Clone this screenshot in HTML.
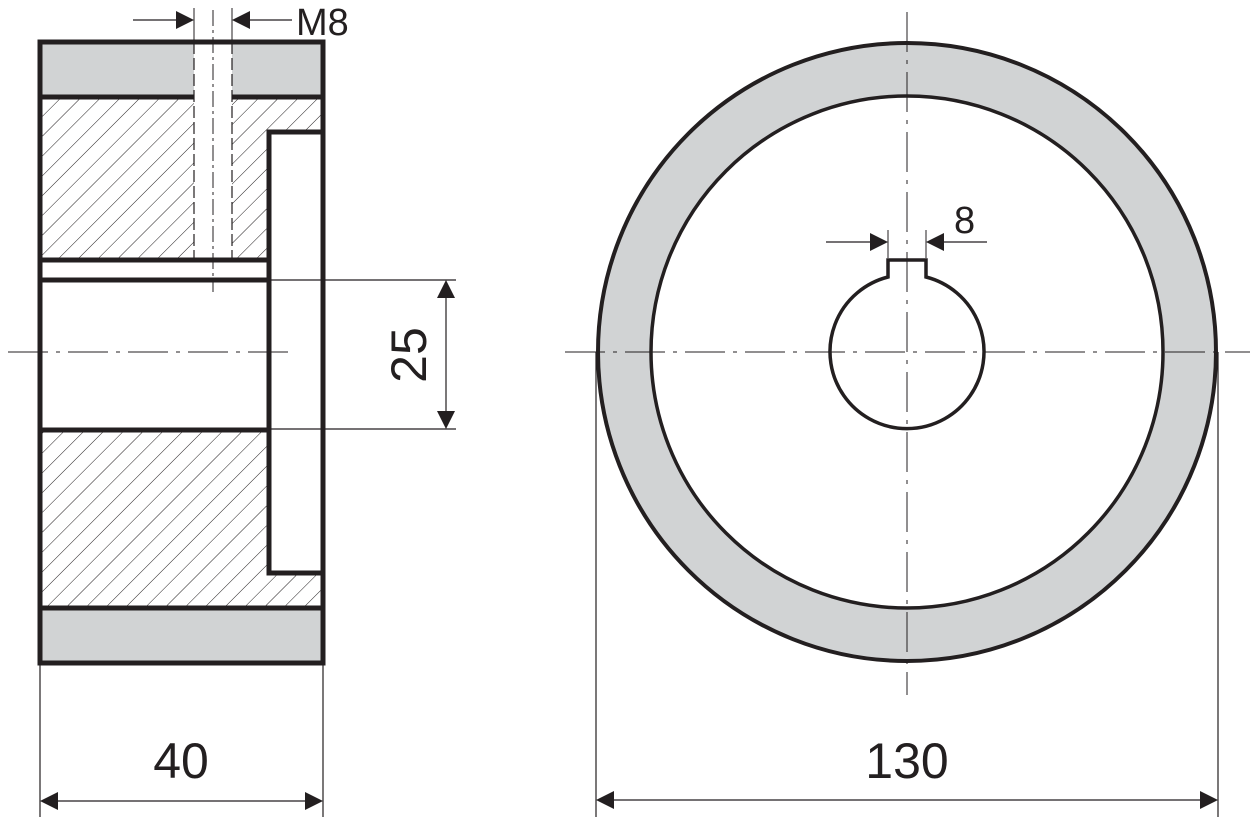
<!DOCTYPE html>
<html><head><meta charset="utf-8"><style>
html,body{margin:0;padding:0;background:#fff}
svg{display:block}
text{font-family:"Liberation Sans",sans-serif;fill:#231f20}
</style></head><body>
<svg width="1260" height="817" viewBox="0 0 1260 817" xmlns="http://www.w3.org/2000/svg">
<defs>
<pattern id="h" patternUnits="userSpaceOnUse" width="14" height="14" patternTransform="rotate(45)">
<line x1="0" y1="0" x2="0" y2="14" stroke="#231f20" stroke-width="1"/>
</pattern>
</defs>
<g stroke="#231f20" fill="none">
<!-- left view fills -->
<rect x="40" y="42" width="283" height="55" fill="#d1d3d4" stroke="none"/>
<rect x="40" y="608" width="283" height="55" fill="#d1d3d4" stroke="none"/>
<rect x="40" y="97" width="283" height="163" fill="url(#h)" stroke="none"/>
<rect x="40" y="430" width="283" height="178" fill="url(#h)" stroke="none"/>
<rect x="40" y="260" width="230" height="170" fill="#fff" stroke="none"/>
<rect x="269" y="132" width="54" height="441" fill="#fff" stroke="none"/>
<rect x="194" y="40" width="38" height="220" fill="#fff" stroke="none"/>
<!-- outlines -->
<rect x="40" y="42" width="283" height="621" stroke-width="5"/>
<line x1="40" y1="97" x2="194" y2="97" stroke-width="5"/>
<line x1="232" y1="97" x2="323" y2="97" stroke-width="5"/>
<line x1="40" y1="608" x2="323" y2="608" stroke-width="5"/>
<line x1="40" y1="260" x2="269" y2="260" stroke-width="5"/>
<line x1="40" y1="280" x2="269" y2="280" stroke-width="5"/>
<line x1="40" y1="430" x2="269" y2="430" stroke-width="5"/>
<polyline points="323,132 269,132 269,573 323,573" stroke-width="5"/>
<!-- thread hole dashed -->
<line x1="194" y1="42" x2="194" y2="258" stroke-width="1.2" stroke-dasharray="12,4"/>
<line x1="232" y1="42" x2="232" y2="258" stroke-width="1.2" stroke-dasharray="12,4"/>
<line x1="213" y1="10" x2="213" y2="292" stroke-width="1" stroke-dasharray="16,4,3,4"/>
<line x1="194" y1="8" x2="194" y2="40" stroke-width="1"/>
<line x1="232" y1="8" x2="232" y2="40" stroke-width="1"/>
<line x1="133" y1="20" x2="176" y2="20" stroke-width="1.2"/>
<line x1="250" y1="20" x2="292" y2="20" stroke-width="1.2"/>
<!-- centerline left -->
<line x1="8" y1="352" x2="292" y2="352" stroke-width="1" stroke-dasharray="40,8,4,8"/>
<!-- 25 dim -->
<line x1="269" y1="280" x2="456" y2="280" stroke-width="1.2"/>
<line x1="269" y1="429" x2="456" y2="429" stroke-width="1.2"/>
<line x1="446" y1="295" x2="446" y2="414" stroke-width="1.2"/>
<!-- 40 dim -->
<line x1="40" y1="663" x2="40" y2="817" stroke-width="1.2"/>
<line x1="323" y1="663" x2="323" y2="817" stroke-width="1.2"/>
<line x1="55" y1="801" x2="308" y2="801" stroke-width="1.2"/>
<!-- right view -->
<circle cx="907" cy="352" r="309" fill="#d1d3d4" stroke-width="4"/>
<circle cx="907" cy="352" r="256" fill="#fff" stroke-width="3.5"/>
<path d="M888,277 L888,260 L926,260 L926,277 A77,77 0 1 1 888,277 Z" fill="#fff" stroke-width="3.5"/>
<line x1="565" y1="352" x2="1250" y2="352" stroke-width="1" stroke-dasharray="40,8,4,8"/>
<line x1="907" y1="12" x2="907" y2="695" stroke-width="1" stroke-dasharray="40,8,4,8"/>
<!-- 8 dim -->
<line x1="888" y1="230" x2="888" y2="258" stroke-width="1"/>
<line x1="926" y1="230" x2="926" y2="258" stroke-width="1"/>
<line x1="826" y1="242" x2="872" y2="242" stroke-width="1.2"/>
<line x1="942" y1="242" x2="987" y2="242" stroke-width="1.2"/>
<!-- 130 dim -->
<line x1="596" y1="352" x2="596" y2="817" stroke-width="1.2"/>
<line x1="1218" y1="352" x2="1218" y2="817" stroke-width="1.2"/>
<line x1="612" y1="800" x2="1202" y2="800" stroke-width="1.2"/>
</g>
<g fill="#231f20">
<polygon points="194,20 176,11 176,29"/>
<polygon points="232,20 250,11 250,29"/>
<polygon points="446,280 437,298 455,298"/>
<polygon points="446,429 437,411 455,411"/>
<polygon points="40,801 58,792 58,810"/>
<polygon points="323,801 305,792 305,810"/>
<polygon points="888,242 870,233 870,251"/>
<polygon points="926,242 944,233 944,251"/>
<polygon points="596,800 614,791 614,809"/>
<polygon points="1218,800 1200,791 1200,809"/>
</g>
<text x="296" y="35" font-size="38">M8</text>
<text x="954" y="233" font-size="38">8</text>
<text x="181" y="778" font-size="50" text-anchor="middle">40</text>
<text x="907" y="778" font-size="50" text-anchor="middle">130</text>
<text x="0" y="0" font-size="50" text-anchor="middle" transform="translate(426,355) rotate(-90)">25</text>
</svg>
</body></html>
